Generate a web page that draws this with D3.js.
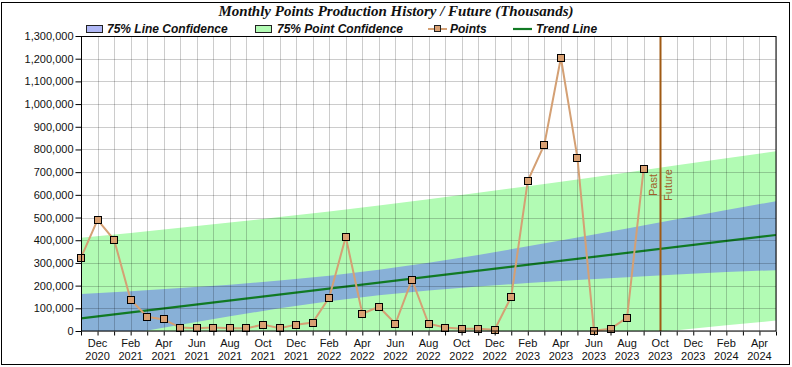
<!DOCTYPE html>
<html><head><meta charset="utf-8">
<script src="https://cdn.jsdelivr.net/npm/d3@7/dist/d3.min.js"></script>
<style>body{margin:0;background:#fff}svg{display:block}</style>
</head><body><svg id="c" width="792" height="367"></svg>
<script>
// ---- data ----
const months = ["Nov 2020","Dec 2020","Jan 2021","Feb 2021","Mar 2021","Apr 2021","May 2021","Jun 2021","Jul 2021","Aug 2021","Sep 2021","Oct 2021","Nov 2021","Dec 2021","Jan 2022","Feb 2022","Mar 2022","Apr 2022","May 2022","Jun 2022","Jul 2022","Aug 2022","Sep 2022","Oct 2022","Nov 2022","Dec 2022","Jan 2023","Feb 2023","Mar 2023","Apr 2023","May 2023","Jun 2023","Jul 2023","Aug 2023","Sep 2023","Oct 2023","Nov 2023","Dec 2023","Jan 2024","Feb 2024","Mar 2024","Apr 2024","May 2024"];
const points = [323000,490000,402000,138000,63000,51000,15000,12000,15000,12000,12000,28000,12000,28000,37000,147000,415000,76000,107000,32000,226000,32000,15000,10000,10000,6000,151000,662000,821000,1204000,763000,1000,10000,59000,714000];
const trendMonths = ["Nov 2020","May 2024"];
const trendValues = [56000,423000];
const bandMonths = ["Nov 2020","Feb 2021","May 2021","Aug 2021","Nov 2021","Feb 2022","May 2022","Aug 2022","Nov 2022","Feb 2023","May 2023","Aug 2023","Nov 2023","Feb 2024","May 2024"];
const lineUpper = [163000,175000,189000,204000,222000,244000,270000,301000,335000,373000,412000,452000,492000,533000,572000];
const lineLower = [-51000,-11000,28000,65000,100000,131000,157000,178000,196000,211000,225000,237000,249000,260000,268000];
const pointUpper = [411000,432000,455000,478000,502000,527000,553000,581000,609000,638000,668000,699000,730000,761000,792000];
const pointLower = [-299000,-268000,-238000,-209000,-180000,-153000,-127000,-102000,-78000,-54000,-32000,-11000,3000,25000,46000];
const dividerMonth = "Oct 2023";
const yTicks = [0,100000,200000,300000,400000,500000,600000,700000,800000,900000,1000000,1100000,1200000,1300000];
const xTickLabels = {"Dec 2020":"Dec|2020","Feb 2021":"Feb|2021","Apr 2021":"Apr|2021","Jun 2021":"Jun|2021","Aug 2021":"Aug|2021","Oct 2021":"Oct|2021","Dec 2021":"Dec|2021","Feb 2022":"Feb|2022","Apr 2022":"Apr|2022","Jun 2022":"Jun|2022","Aug 2022":"Aug|2022","Oct 2022":"Oct|2022","Dec 2022":"Dec|2022","Feb 2023":"Feb|2023","Apr 2023":"Apr|2023","Jun 2023":"Jun|2023","Aug 2023":"Aug|2023","Oct 2023":"Oct|2023","Dec 2023":"Dec|2023","Feb 2024":"Feb|2024","Apr 2024":"Apr|2024"};
const title = "Monthly Points Production History / Future (Thousands)";
const legendItems = ["75% Line Confidence","75% Point Confidence","Points","Trend Line"];

// ---- layout ----
const L=81, R=776, T=36, B=331;
const svg = d3.select("#c");
const mi = m => months.indexOf(m);
const x = d3.scaleLinear().domain([0, months.length-1]).range([L,R]);
const y = d3.scaleLinear().domain([0,1300000]).range([B,T]);

svg.append("rect").attr("x",1.5).attr("y",2.5).attr("width",788).attr("height",362)
  .attr("fill","#fff").attr("stroke","#000").attr("stroke-width",1);

svg.append("defs").append("clipPath").attr("id","clip").append("rect")
  .attr("x",L).attr("y",T).attr("width",R-L).attr("height",B-T);

const plot = svg.append("g").attr("clip-path","url(#clip)");
const bandIdx = bandMonths.map(mi);
const areaGen = (up, lo) => d3.area().x((d,i)=>x(bandIdx[i])).y0((d,i)=>y(lo[i])).y1((d,i)=>y(up[i]))(bandIdx);
plot.append("path").attr("d",areaGen(pointUpper,pointLower)).attr("fill","#b2fbb4");
plot.append("path").attr("d",areaGen(lineUpper,lineLower)).attr("fill","#88b0d7");

// grid
const grid = svg.append("g").attr("stroke","rgba(0,0,0,0.2)").attr("stroke-width",1);
months.forEach((m,i)=>{ grid.append("line").attr("x1",Math.round(x(i))+0.5).attr("x2",Math.round(x(i))+0.5).attr("y1",T).attr("y2",B); });
yTicks.forEach(v=>{ grid.append("line").attr("x1",L).attr("x2",R).attr("y1",Math.round(y(v))+0.5).attr("y2",Math.round(y(v))+0.5); });

// trend line
plot.append("path").attr("d", d3.line().x(d=>x(mi(d[0]))).y(d=>y(d[1]))(trendMonths.map((m,i)=>[m,trendValues[i]])))
  .attr("stroke","#117a24").attr("stroke-width",2.2).attr("fill","none");

// divider
const dx = Math.round(x(mi(dividerMonth)))+0.5;
svg.append("line").attr("x1",dx).attr("x2",dx).attr("y1",T).attr("y2",B).attr("stroke","#a05a14").attr("stroke-width",2);
svg.append("text").attr("transform",`translate(${dx-4},185) rotate(-90)`).attr("text-anchor","middle")
  .attr("font-family","Liberation Sans, Arial, sans-serif").attr("font-size",11).attr("fill","#a0602a").text("Past");
svg.append("text").attr("transform",`translate(${dx+11},185) rotate(-90)`).attr("text-anchor","middle")
  .attr("font-family","Liberation Sans, Arial, sans-serif").attr("font-size",11).attr("fill","#a0602a").text("Future");

// points line
svg.append("path").attr("d", d3.line().x((d,i)=>x(i)).y(d=>y(d))(points))
  .attr("stroke","#d4a074").attr("stroke-width",2).attr("fill","none");
svg.append("g").selectAll("rect").data(points).join("rect")
  .attr("x",(d,i)=>Math.round(x(i))-3.5).attr("y",d=>Math.round(y(d))-3.5).attr("width",7).attr("height",7)
  .attr("fill","#d9a072").attr("stroke","#000").attr("stroke-width",1);

// plot frame
svg.append("rect").attr("x",L+0.5).attr("y",T+0.5).attr("width",R-L-0.5).attr("height",B-T-0.5)
  .attr("fill","none").attr("stroke","#000").attr("stroke-width",1);

// axes
const yAxis = d3.axisLeft(y).tickValues(yTicks).tickSize(6).tickPadding(2).tickFormat(d3.format(","));
const ga = svg.append("g").attr("transform",`translate(${L+0.5},0)`).call(yAxis);
ga.select(".domain").remove();
ga.selectAll("text").attr("font-family","Liberation Sans, Arial, sans-serif").attr("font-size",11).attr("fill","#111");

const xAxis = d3.axisBottom(x).tickValues(d3.range(months.length)).tickSize(4).tickFormat("");
const gx = svg.append("g").attr("transform",`translate(0,${B+0.5})`).call(xAxis);
gx.select(".domain").remove();
months.forEach((m,i)=>{
  const lab = xTickLabels[m]; if(!lab) return;
  const parts = lab.split("|");
  const t = svg.append("text").attr("text-anchor","middle").attr("font-family","Liberation Sans, Arial, sans-serif")
    .attr("font-size",11).attr("fill","#111");
  t.append("tspan").attr("x",x(i)).attr("y",347).text(parts[0]);
  t.append("tspan").attr("x",x(i)).attr("y",359.5).text(parts[1]);
});

// title
svg.append("text").attr("x",396).attr("y",16).attr("text-anchor","middle")
  .attr("font-family","Liberation Serif, Times New Roman, serif").attr("font-weight","bold").attr("font-style","italic")
  .attr("font-size",15).attr("fill","#111").text(title);

// legend
const lf = t => t.attr("font-family","Liberation Sans, Arial, sans-serif").attr("font-weight","bold").attr("font-style","italic").attr("font-size",12).attr("fill","#111");
svg.append("rect").attr("x",86.5).attr("y",25.5).attr("width",16).attr("height",7).attr("fill","#b0b8f6").attr("stroke","#222");
lf(svg.append("text").attr("x",107).attr("y",33).text(legendItems[0]));
svg.append("rect").attr("x",255.5).attr("y",25.5).attr("width",16).attr("height",7).attr("fill","#b2fbb4").attr("stroke","#222");
lf(svg.append("text").attr("x",277).attr("y",33).text(legendItems[1]));
svg.append("line").attr("x1",428).attr("x2",447).attr("y1",29).attr("y2",29).attr("stroke","#d4a074").attr("stroke-width",2);
svg.append("rect").attr("x",434.5).attr("y",25.5).attr("width",6).attr("height",6).attr("fill","#d9a072").attr("stroke","#222");
lf(svg.append("text").attr("x",450).attr("y",33).text(legendItems[2]));
svg.append("line").attr("x1",513).attr("x2",532).attr("y1",29).attr("y2",29).attr("stroke","#117a24").attr("stroke-width",2.2);
lf(svg.append("text").attr("x",536).attr("y",33).text(legendItems[3]));
</script></body></html>
